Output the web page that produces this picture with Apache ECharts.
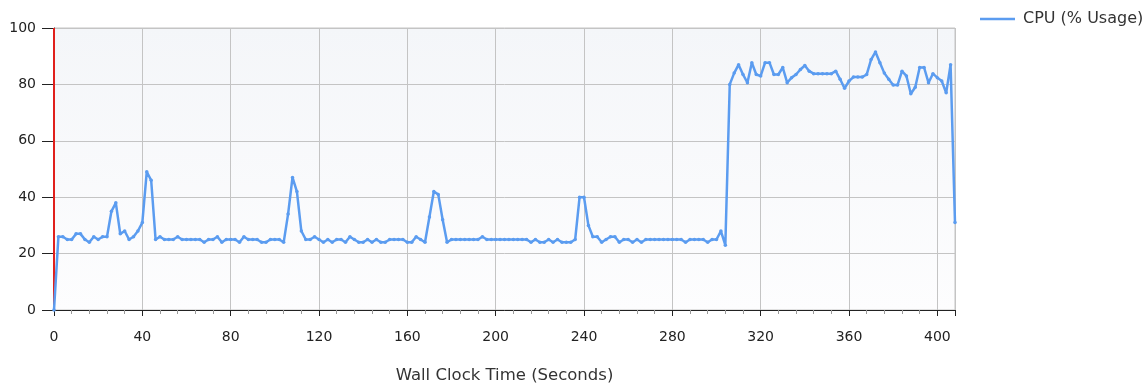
<!DOCTYPE html>
<html>
<head>
<meta charset="utf-8">
<style>
  html, body { margin: 0; padding: 0; background: #ffffff; }
  #chart { width: 1148px; height: 383px; }
</style>
<script src="https://cdn.jsdelivr.net/npm/echarts@6/dist/echarts.min.js"></script>
</head>
<body>
<div id="chart"></div>
<script>
// CPU usage samples, one every 2 seconds of wall clock time
const sampleStepSeconds = 2;
const cpuUsage = [
  0, 26, 26, 25, 25, 27, 27, 25, 24, 26,
  25, 26, 26, 35, 38, 27, 28, 25, 26, 28,
  31, 49, 46, 25, 26, 25, 25, 25, 26, 25,
  25, 25, 25, 25, 24, 25, 25, 26, 24, 25,
  25, 25, 24, 26, 25, 25, 25, 24, 24, 25,
  25, 25, 24, 34, 47, 42, 28, 25, 25, 26,
  25, 24, 25, 24, 25, 25, 24, 26, 25, 24,
  24, 25, 24, 25, 24, 24, 25, 25, 25, 25,
  24, 24, 26, 25, 24, 33, 42, 41, 32, 24,
  25, 25, 25, 25, 25, 25, 25, 26, 25, 25,
  25, 25, 25, 25, 25, 25, 25, 25, 24, 25,
  24, 24, 25, 24, 25, 24, 24, 24, 25, 40,
  40, 30, 26, 26, 24, 25, 26, 26, 24, 25,
  25, 24, 25, 24, 25, 25, 25, 25, 25, 25,
  25, 25, 25, 24, 25, 25, 25, 25, 24, 25,
  25, 28, 23, 80, 84, 87, 83.5, 80.6, 87.7, 83.5,
  83, 87.7, 87.7, 83.5, 83.5, 86, 80.6, 82.4, 83.5, 85.3,
  86.7, 84.7, 83.8, 83.8, 83.8, 83.8, 83.8, 84.7, 81.8, 78.6,
  81.2, 82.6, 82.6, 82.6, 83.5, 88.8, 91.5, 87.7, 84, 81.8,
  79.8, 79.8, 84.7, 83, 76.7, 79, 86, 86, 80.6, 83.8,
  82.4, 81.2, 77, 87, 31
];

const seriesName = 'CPU (% Usage)';
const xAxisTitle = 'Wall Clock Time (Seconds)';
const xRange = [0, 408];
const yRange = [0, 100];

const points = cpuUsage.map((v, i) => [i * sampleStepSeconds, v]);

const font = '"DejaVu Sans", Verdana, sans-serif';
const lineBlue = '#5B9CF0';
const inkColor = '#222222';

const chart = echarts.init(document.getElementById('chart'), null, { renderer: 'canvas' });
chart.setOption({
  animation: false,
  backgroundColor: '#ffffff',
  textStyle: { fontFamily: font },
  grid: {
    left: 54, right: 193, top: 28, bottom: 73,
    outerBoundsMode: 'none',
    containLabel: false,
    show: true,
    borderColor: '#c4c4c4',
    borderWidth: 1,
    backgroundColor: new echarts.graphic.LinearGradient(0, 0, 0, 1, [
      { offset: 0, color: '#f4f6f9' },
      { offset: 1, color: '#fdfdfe' }
    ])
  },
  legend: {
    left: 980, top: 11,
    padding: 0,
    icon: 'rect',
    itemWidth: 35, itemHeight: 2.5, itemGap: 8,
    textStyle: { fontFamily: font, fontSize: 16, color: '#333333', padding: [0, 0, 0, 3] },
    data: [seriesName]
  },
  xAxis: {
    type: 'value',
    min: xRange[0], max: xRange[1], interval: 40,
    name: xAxisTitle,
    nameLocation: 'middle',
    nameGap: 57,
    nameTextStyle: { fontFamily: font, fontSize: 16.5, color: '#333333' },
    axisLine: { show: true, onZero: false, lineStyle: { color: inkColor, width: 1 } },
    axisTick: { show: true, inside: false, length: 6, lineStyle: { color: inkColor } },
    minorTick: { show: true, splitNumber: 5, length: 4, lineStyle: { color: '#999999' } },
    axisLabel: { margin: 20, fontSize: 14, color: inkColor, fontFamily: font, showMaxLabel: false },
    splitLine: { show: true, lineStyle: { color: '#c4c4c4', width: 1 } }
  },
  yAxis: {
    type: 'value',
    min: yRange[0], max: yRange[1], interval: 20,
    axisLine: { show: true, lineStyle: { color: inkColor, width: 1 } },
    axisTick: { show: true, inside: false, length: 12, lineStyle: { color: inkColor } },
    axisLabel: { margin: 18, fontSize: 14, color: inkColor, fontFamily: font },
    splitLine: { show: true, lineStyle: { color: '#c4c4c4', width: 1 } }
  },
  series: [{
    name: seriesName,
    type: 'line',
    data: points,
    showSymbol: true,
    symbol: 'circle',
    symbolSize: 3.5,
    itemStyle: { color: lineBlue },
    lineStyle: { color: lineBlue, width: 2.5 },
    z: 3,
    markLine: {
      silent: true,
      symbol: ['none', 'none'],
      label: { show: false },
      lineStyle: { color: '#e0201c', width: 2, type: 'solid' },
      data: [{ xAxis: 0 }],
      z: 2
    }
  }]
});
</script>
</body>
</html>
